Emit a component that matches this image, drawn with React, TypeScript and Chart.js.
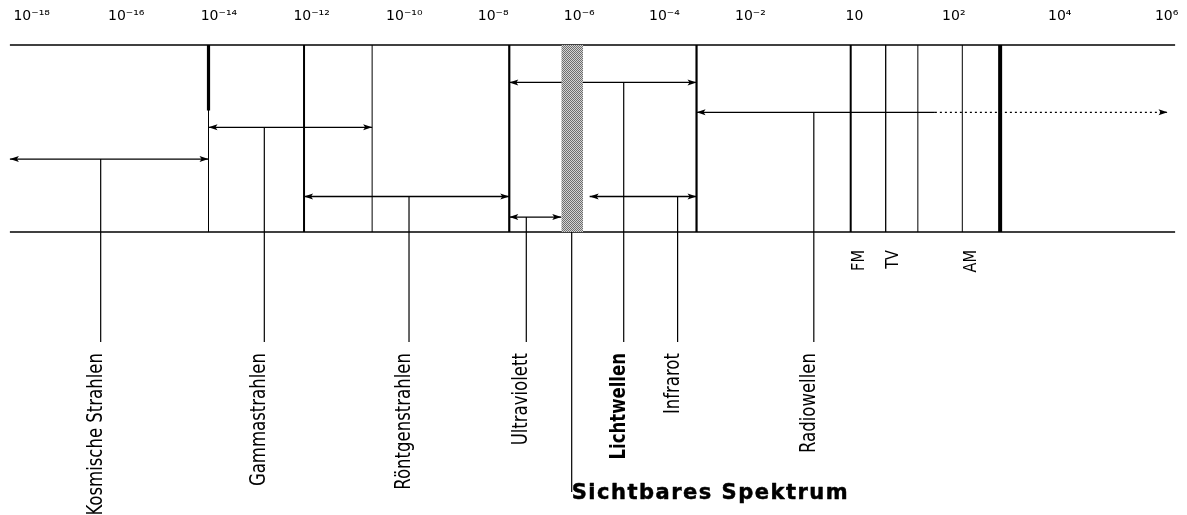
import { useEffect, useRef } from 'react';
import { Chart, registerables } from 'chart.js';

Chart.register(...registerables);

// ---- data ----
const tickLabels = ['10⁻¹⁸', '10⁻¹⁶', '10⁻¹⁴', '10⁻¹²', '10⁻¹⁰', '10⁻⁸', '10⁻⁶', '10⁻⁴', '10⁻²', '10', '10²', '10⁴', '10⁶'];
const tickPositions = [0, 1.0, 1.98, 2.96, 3.94, 4.88, 5.79, 6.69, 7.6, 8.7, 9.75, 10.87, 12];

const bandNames = ['Kosmische Strahlen', 'Gammastrahlen', 'Röntgenstrahlen', 'Ultraviolett', 'Lichtwellen', 'Infrarot', 'Radiowellen'];
const bandFrom = [-0.23, 1.87, 2.88, 5.05, 5.05, 5.9, 7.03];
const bandTo = [1.87, 3.6, 5.05, 5.6, 7.03, 7.03, 12.01];
const bandLevel = [39, 56, 19, 8, 80, 19, 64];
const bandLabelAt = [0.73, 2.46, 3.99, 5.23, 6.26, 6.83, 8.27];
const bandBold = [false, false, false, false, true, false, false];

const boundaryAt = [1.87, 2.88, 3.6, 5.05, 7.03, 8.66, 9.03, 9.37, 9.84, 10.24];

const visibleBand = [5.6, 5.83];
const visibleLabel = 'Sichtbares Spektrum';
const visibleLabelAt = 5.71;

const radioSubNames = ['FM', 'TV', 'AM'];
const radioSubAt = [8.8, 9.16, 9.99];
const radioSolidUntil = 9.55;

const spectrumTop = 100;
const spectrumBottom = 0;
const axisFrom = -0.23;
const axisTo = 12.09;
const gammaCapLevel = 65;
const leaderEnd = -58.8;
const labelTop = -64.7;
const subLabelTop = -9.6;
const visibleLeaderEnd = -139;
const visibleLabelBase = -142.8;

// ---- styles ----
const BOUNDARY_W = [1, 2, 1, 2.2, 2.2, 2, 1.3, 1, 1, 4];
const INK = '#000';
const LABEL_FONT = "'Liberation Sans Narrow', 'DejaVu Sans Condensed', 'Arial Narrow', sans-serif";

function seg(x0: number, y0: number, x1: number, y1: number, width: number, extra: any = {}) {
  return {
    data: [{ x: x0, y: y0 }, { x: x1, y: y1 }],
    borderColor: INK,
    borderWidth: width,
    pointRadius: 0,
    fill: false,
    tension: 0,
    ...extra,
  };
}

function makePattern(): CanvasPattern | string {
  const c = document.createElement('canvas');
  c.width = 2;
  c.height = 2;
  const g = c.getContext('2d');
  if (!g) return '#999';
  g.fillStyle = '#d4d4d4';
  g.fillRect(0, 0, 2, 2);
  g.fillStyle = '#6e6e6e';
  g.fillRect(0, 0, 1, 1);
  g.fillRect(1, 1, 1, 1);
  const p = g.createPattern(c, 'repeat');
  return p || '#999';
}

const labelsPlugin = {
  id: 'spectrumLabels',
  afterDatasetsDraw(chart: any) {
    const { ctx, scales, data } = chart;
    const xs = scales.x;
    const ys = scales.y;
    // arrow heads
    data.datasets.forEach((ds: any, i: number) => {
      if (!ds.arrowStart && !ds.arrowEnd) return;
      const meta = chart.getDatasetMeta(i);
      const pts = meta.data;
      if (!pts || pts.length < 2) return;
      ctx.save();
      ctx.fillStyle = INK;
      const head = (tx: number, ty: number, dir: number) => {
        ctx.beginPath();
        ctx.moveTo(tx, ty);
        ctx.lineTo(tx + dir * 9, ty - 3);
        ctx.lineTo(tx + dir * 7, ty);
        ctx.lineTo(tx + dir * 9, ty + 3);
        ctx.closePath();
        ctx.fill();
      };
      if (ds.arrowStart) head(pts[0].x, pts[0].y, 1);
      if (ds.arrowEnd) head(pts[pts.length - 1].x, pts[pts.length - 1].y, -1);
      ctx.restore();
    });

    ctx.save();
    ctx.fillStyle = INK;
    ctx.strokeStyle = INK;
    // rotated band labels
    ctx.textAlign = 'right';
    ctx.textBaseline = 'alphabetic';
    bandNames.forEach((name, i) => {
      const x = xs.getPixelForValue(bandLabelAt[i]) + 1;
      const y = ys.getPixelForValue(labelTop);
      ctx.save();
      ctx.translate(x, y);
      ctx.rotate(-Math.PI / 2);
      ctx.scale(0.875, 1);
      ctx.font = (bandBold[i] ? 'bold ' : '') + '21px ' + LABEL_FONT;
      ctx.fillText(name, 0, 0);
      ctx.restore();
    });
    radioSubNames.forEach((name, i) => {
      const x = xs.getPixelForValue(radioSubAt[i]);
      const y = ys.getPixelForValue(subLabelTop);
      ctx.save();
      ctx.translate(x, y);
      ctx.rotate(-Math.PI / 2);
      ctx.scale(0.9, 1);
      ctx.font = '18px ' + LABEL_FONT;
      ctx.fillText(name, 0, 0);
      ctx.restore();
    });
    // visible spectrum label
    ctx.textAlign = 'left';
    ctx.font = "bold 21px 'DejaVu Sans', sans-serif";
    ctx.lineWidth = 0.5;
    ctx.lineJoin = 'round';
    try { (ctx as any).letterSpacing = '1.5px'; } catch (e) { /* ignore */ }
    const vx = xs.getPixelForValue(visibleLabelAt);
    const vy = ys.getPixelForValue(visibleLabelBase);
    ctx.fillText(visibleLabel, vx, vy);
    ctx.strokeText(visibleLabel, vx, vy);
    try { (ctx as any).letterSpacing = '0px'; } catch (e) { /* ignore */ }
    ctx.restore();
  },
};

export default function App() {
  const ref = useRef<HTMLCanvasElement | null>(null);

  useEffect(() => {
    document.body.style.margin = '0';
    const canvas = ref.current;
    if (!canvas) return;

    const datasets: any[] = [];
    // visible spectrum stipple band
    datasets.push({
      data: [{ x: visibleBand[0], y: spectrumTop }, { x: visibleBand[1], y: spectrumTop }],
      borderWidth: 0,
      borderColor: 'rgba(0,0,0,0)',
      backgroundColor: makePattern(),
      fill: { value: spectrumBottom },
      pointRadius: 0,
    });
    // frame lines
    datasets.push(seg(axisFrom, spectrumTop, axisTo, spectrumTop, 1.5));
    datasets.push(seg(axisFrom, spectrumBottom, axisTo, spectrumBottom, 1.6));
    // boundaries
    boundaryAt.forEach((b, i) => {
      datasets.push(seg(b, spectrumBottom, b, spectrumTop, BOUNDARY_W[i]));
    });
    datasets.push(seg(boundaryAt[0], gammaCapLevel, boundaryAt[0], spectrumTop, 3.2));
    // band arrows + leaders
    bandNames.forEach((name, i) => {
      if (name === 'Radiowellen') {
        datasets.push(seg(bandFrom[i], bandLevel[i], radioSolidUntil, bandLevel[i], 1.2, { arrowStart: true }));
        datasets.push(seg(radioSolidUntil, bandLevel[i], bandTo[i], bandLevel[i], 1.2, { arrowEnd: true, borderDash: [2, 3] }));
      } else {
        datasets.push(seg(bandFrom[i], bandLevel[i], bandTo[i], bandLevel[i], 1.3, { arrowStart: true, arrowEnd: true }));
      }
      datasets.push(seg(bandLabelAt[i], bandLevel[i], bandLabelAt[i], leaderEnd, 1.2));
    });
    // visible spectrum leader
    datasets.push(seg(visibleLabelAt, spectrumBottom, visibleLabelAt, visibleLeaderEnd, 1.2));

    const chart = new Chart(canvas, {
      type: 'line',
      data: { datasets },
      plugins: [labelsPlugin],
      options: {
        animation: false,
        responsive: false,
        devicePixelRatio: 1,
        layout: { padding: { left: 8, right: 10, top: -9.3, bottom: 0 } },
        plugins: { legend: { display: false }, tooltip: { enabled: false } },
        elements: { line: { borderCapStyle: 'butt' } },
        scales: {
          x: {
            type: 'linear',
            position: 'top',
            min: -0.25,
            max: 12.11,
            afterBuildTicks: (scale: any) => {
              scale.ticks = tickPositions.map((value) => ({ value }));
            },
            ticks: {
              autoSkip: false,
              maxRotation: 0,
              padding: 0,
              color: INK,
              font: { family: "'DejaVu Sans', sans-serif", size: 14, lineHeight: '50.6px' },
              callback: (_v: any, index: number) => tickLabels[index],
            },
            grid: { display: false, drawTicks: false },
            border: { display: false },
          },
          y: {
            type: 'linear',
            display: false,
            min: -151.3,
            max: 102,
          },
        },
      } as any,
    });
    return () => chart.destroy();
  }, []);

  return (
    <div style={{ position: 'absolute', left: 0, top: 0, width: 1187, height: 515, background: '#fff' }}>
      <canvas ref={ref} width={1187} height={515} />
    </div>
  );
}
